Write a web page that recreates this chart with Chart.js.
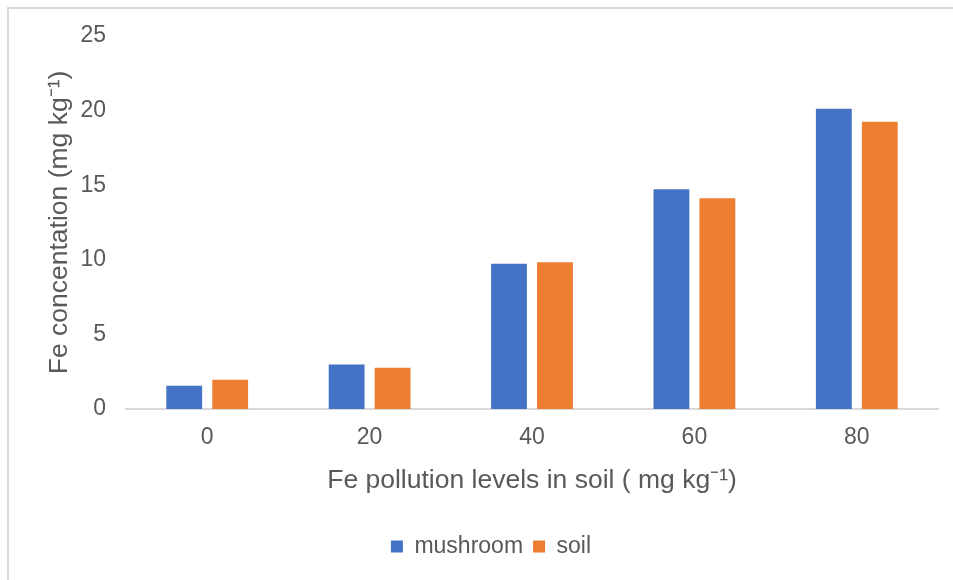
<!DOCTYPE html>
<html>
<head>
<meta charset="utf-8">
<script src="https://cdn.jsdelivr.net/npm/chart.js@4"></script>
<style>
  html, body { margin: 0; padding: 0; background: #fff; }
  #wrap { position: relative; width: 953px; height: 580px; overflow: hidden; }
  #frame {
    position: absolute; left: 7px; top: 7px; width: 1000px; height: 700px;
    border-left: 2px solid #d9d9d9; border-top: 2px solid #d9d9d9;
  }
  canvas { position: absolute; left: 0; top: 0; }
</style>
</head>
<body>
<div id="wrap">
  <div id="frame"></div>
  <canvas id="chart" width="953" height="580"></canvas>
</div>
<script>
const levels = ["0", "20", "40", "60", "80"];
const mushroom = [1.56, 2.99, 9.74, 14.73, 20.12];
const soil = [1.96, 2.77, 9.83, 14.12, 19.25];
const yTicks = [0, 5, 10, 15, 20, 25];

const gray = "#595959";
const font = "'Liberation Sans', Arial, sans-serif";

window.addEventListener("DOMContentLoaded", () => {
  const ctx = document.getElementById("chart").getContext("2d");
  new Chart(ctx, {
    type: "bar",
    data: {
      labels: levels,
      datasets: [
        { label: "mushroom", data: mushroom, backgroundColor: "#4472C4" },
        { label: "soil", data: soil, backgroundColor: "#ED7D31" },
      ],
    },
    options: {
      responsive: false,
      animation: false,
      datasets: { bar: { categoryPercentage: 0.566, barPercentage: 0.78 } },
      layout: { padding: { left: 44, right: 15, top: 36, bottom: 12 } },
      scales: {
        x: {
          grid: { display: false, drawTicks: false },
          border: { display: true, color: "#d9d9d9", width: 2 },
          ticks: { color: gray, font: { family: font, size: 23 }, padding: 15 },
          title: {
            display: true,
            text: "Fe pollution levels in soil ( mg kg\u207B\u00B9)",
            color: gray,
            font: { family: font, size: 26.5 },
            padding: { top: 0, bottom: 28 },
          },
          afterFit: (scale) => { scale.height = 116; },
        },
        y: {
          min: 0,
          max: 25,
          afterBuildTicks: (scale) => { scale.ticks = yTicks.map((v) => ({ value: v })); },
          grid: { display: false, drawTicks: false },
          border: { display: false },
          ticks: { color: gray, font: { family: font, size: 23 }, padding: 20 },
          title: {
            display: true,
            text: "Fe concentation (mg kg\u207B\u00B9)",
            color: gray,
            font: { family: font, size: 26.5 },
            padding: { top: 0, bottom: 0 },
          },
          afterFit: (scale) => { scale.width = 82; },
        },
      },
      plugins: {
        legend: {
          position: "bottom",
          labels: {
            color: gray,
            font: { family: font, size: 23 },
            boxWidth: 12,
            boxHeight: 12,
            padding: 10,
          },
        },
        tooltip: { enabled: false },
      },
    },
  });
});
</script>
</body>
</html>
